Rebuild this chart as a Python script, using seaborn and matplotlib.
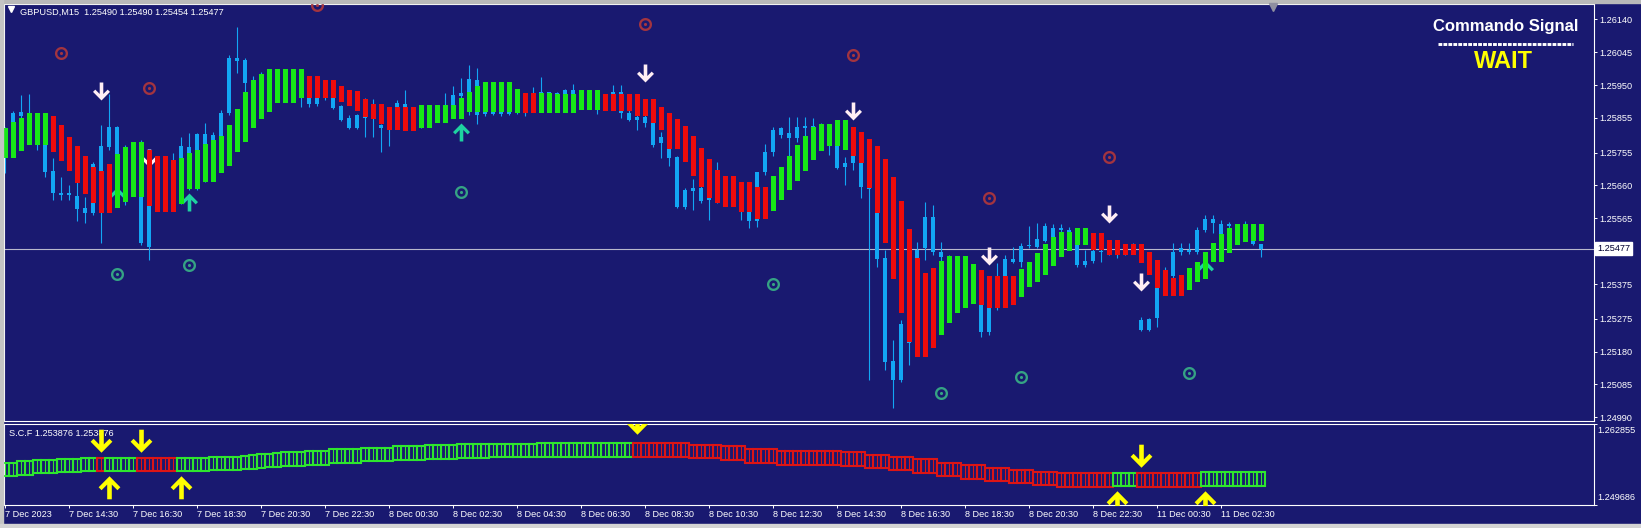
import numpy as np
import pandas as pd
import matplotlib
matplotlib.use("Agg")
import matplotlib.pyplot as plt
import seaborn as sns
from matplotlib.path import Path
from matplotlib.lines import Line2D
from matplotlib.patches import Rectangle

# ============ data : GBPUSD M15, prices in points (1 pt = 0.00001) ============

bar_open = [
    125762, 125806, 125861, 125835, 125791, 125777, 125702, 125638, 125632, 125630,
    125595, 125580, 125702, 125771, 125751, 125762, 125705, 125734, 125482, 125690,
    125618, 125690, 125618, 125754, 125762, 125780, 125734, 125803, 125869, 126028,
    126023, 125907, 125921, 125921, 125985, 125913, 125976, 125913, 125950, 125913,
    125950, 125913, 125890, 125855, 125826, 125864, 125864, 125835, 125835, 125878,
    125887, 125878, 125835, 125878, 125849, 125878, 125893, 125919, 125930, 125965,
    125878, 125867, 125907, 125867, 125872, 125895, 125878, 125893, 125930, 125927,
    125895, 125936, 125924, 125907, 125924, 125898, 125901, 125930, 125869, 125849,
    125858, 125841, 125800, 125800, 125742, 125647, 125653, 125653, 125624, 125618,
    125632, 125612, 125630, 125598, 125557, 125699, 125757, 125806, 125812, 125797,
    125826, 125832, 125826, 125809, 125800, 125713, 125725, 125725, 125656, 125580,
    125450, 125153, 125098, 125208, 125205, 125479, 125569, 125468, 125453, 125430,
    125410, 125390, 125315, 125237, 125306, 125398, 125447, 125439, 125485, 125482,
    125500, 125511, 125537, 125531, 125505, 125430, 125442, 125471, 125468, 125482,
    125465, 125476, 125271, 125242, 125277, 125364, 125398, 125468, 125468, 125468,
    125531, 125563, 125520, 125549, 125543, 125531, 125540, 125490,
]
bar_high = [
    125829, 125875, 125921, 125924, 125855, 125791, 125739, 125684, 125661, 125676,
    125627, 125728, 125835, 125924, 125832, 125777, 125771, 125791, 125762, 125734,
    125719, 125754, 125800, 125812, 125812, 125841, 125815, 125878, 126037, 126118,
    126028, 125976, 125988, 125997, 125994, 125985, 125985, 125976, 125965, 125936,
    125956, 125936, 125893, 125864, 125867, 125913, 125910, 125838, 125887, 125907,
    125936, 125887, 125887, 125884, 125884, 125927, 125947, 125971, 126008, 125999,
    125900, 125913, 125913, 125895, 125907, 125907, 125945, 125973, 125930, 125930,
    125939, 125953, 125936, 125933, 125930, 125913, 125950, 125950, 125878, 125867,
    125867, 125849, 125815, 125803, 125745, 125653, 125679, 125667, 125650, 125728,
    125650, 125644, 125653, 125627, 125699, 125780, 125829, 125829, 125858, 125858,
    125858, 125855, 125841, 125838, 125815, 125742, 125748, 125728, 125656, 125580,
    125473, 125213, 125271, 125208, 125497, 125612, 125604, 125497, 125460, 125442,
    125430, 125410, 125352, 125306, 125436, 125459, 125482, 125494, 125543, 125552,
    125552, 125549, 125549, 125540, 125520, 125473, 125485, 125494, 125494, 125491,
    125488, 125494, 125280, 125277, 125370, 125424, 125494, 125494, 125494, 125540,
    125575, 125575, 125560, 125555, 125549, 125557, 125546, 125490,
]
bar_low = [
    125696, 125791, 125835, 125820, 125762, 125684, 125618, 125618, 125618, 125557,
    125552, 125575, 125494, 125762, 125734, 125604, 125699, 125488, 125445, 125601,
    125604, 125612, 125606, 125647, 125647, 125670, 125722, 125791, 125864, 125985,
    125930, 125895, 125913, 125913, 125913, 125907, 125907, 125887, 125887, 125890,
    125907, 125881, 125846, 125823, 125823, 125800, 125800, 125757, 125774, 125864,
    125872, 125826, 125826, 125843, 125846, 125855, 125890, 125913, 125864, 125838,
    125860, 125864, 125861, 125864, 125867, 125862, 125872, 125887, 125887, 125884,
    125890, 125895, 125895, 125898, 125867, 125884, 125890, 125855, 125846, 125820,
    125829, 125771, 125739, 125716, 125595, 125592, 125589, 125609, 125560, 125609,
    125604, 125601, 125560, 125537, 125540, 125690, 125745, 125797, 125734, 125786,
    125791, 125803, 125800, 125748, 125707, 125661, 125705, 125624, 125098, 125424,
    125127, 125017, 125092, 125141, 125200, 125445, 125460, 125424, 125421, 125401,
    125378, 125352, 125222, 125228, 125300, 125390, 125436, 125424, 125479, 125479,
    125497, 125505, 125520, 125497, 125424, 125424, 125436, 125439, 125459, 125450,
    125459, 125462, 125239, 125239, 125251, 125355, 125393, 125460, 125462, 125462,
    125526, 125523, 125511, 125531, 125520, 125520, 125488, 125453,
]
bar_close = [
    125815, 125869, 125872, 125864, 125849, 125699, 125638, 125632, 125638, 125592,
    125580, 125722, 125774, 125829, 125829, 125734, 125762, 125494, 125690, 125618,
    125690, 125618, 125774, 125771, 125809, 125809, 125806, 125869, 126028, 126020,
    125956, 125965, 125982, 125985, 125921, 125976, 125913, 125965, 125895, 125895,
    125913, 125884, 125849, 125826, 125864, 125855, 125895, 125826, 125878, 125898,
    125895, 125835, 125878, 125849, 125878, 125893, 125921, 125927, 125968, 125864,
    125867, 125907, 125867, 125872, 125895, 125878, 125893, 125930, 125927, 125895,
    125936, 125924, 125907, 125924, 125898, 125901, 125930, 125869, 125849, 125858,
    125841, 125777, 125783, 125739, 125598, 125598, 125644, 125615, 125618, 125632,
    125612, 125630, 125598, 125557, 125699, 125757, 125820, 125826, 125797, 125829,
    125832, 125826, 125809, 125826, 125710, 125725, 125745, 125656, 125650, 125447,
    125150, 125098, 125260, 125205, 125473, 125569, 125468, 125453, 125430, 125410,
    125390, 125378, 125237, 125306, 125390, 125447, 125439, 125485, 125488, 125505,
    125543, 125537, 125531, 125505, 125430, 125442, 125471, 125468, 125482, 125465,
    125476, 125471, 125242, 125274, 125364, 125404, 125468, 125479, 125473, 125531,
    125563, 125552, 125549, 125543, 125531, 125540, 125490, 125477,
]

# smoothed heiken ashi bodies
ha_open = [
    125739, 125739, 125760, 125777, 125777, 125777, 125861, 125835, 125800, 125774,
    125745, 125713, 125702, 125722, 125595, 125612, 125627, 125627, 125762, 125745,
    125745, 125734, 125606, 125650, 125650, 125670, 125670, 125696, 125716, 125757,
    125786, 125826, 125852, 125872, 125898, 125898, 125898, 125913, 125976, 125976,
    125965, 125965, 125947, 125936, 125933, 125910, 125895, 125895, 125887, 125887,
    125887, 125887, 125826, 125826, 125841, 125841, 125852, 125852, 125872, 125872,
    125872, 125872, 125872, 125872, 125869, 125927, 125927, 125869, 125869, 125869,
    125869, 125869, 125878, 125878, 125878, 125924, 125924, 125924, 125924, 125924,
    125910, 125910, 125887, 125869, 125852, 125832, 125803, 125768, 125736, 125705,
    125687, 125687, 125670, 125670, 125656, 125656, 125586, 125618, 125647, 125673,
    125702, 125734, 125760, 125774, 125774, 125762, 125829, 125815, 125794, 125774,
    125736, 125684, 125615, 125534, 125450, 125407, 125421, 125228, 125263, 125291,
    125306, 125317, 125416, 125398, 125398, 125398, 125398, 125338, 125367, 125381,
    125401, 125427, 125453, 125471, 125488, 125488, 125523, 125523, 125502, 125502,
    125491, 125491, 125491, 125468, 125445, 125416, 125393, 125401, 125358, 125381,
    125390, 125439, 125439, 125465, 125488, 125497, 125500, 125500,
]
ha_close = [
    125826, 125843, 125855, 125869, 125869, 125869, 125757, 125731, 125702, 125667,
    125635, 125609, 125580, 125580, 125751, 125771, 125786, 125786, 125601, 125583,
    125583, 125583, 125739, 125754, 125762, 125780, 125791, 125803, 125835, 125881,
    125930, 125965, 125982, 125997, 125997, 125997, 125997, 125997, 125913, 125913,
    125913, 125913, 125901, 125890, 125875, 125858, 125852, 125838, 125820, 125820,
    125817, 125817, 125893, 125893, 125893, 125893, 125893, 125913, 125930, 125947,
    125959, 125959, 125959, 125959, 125939, 125869, 125869, 125927, 125927, 125924,
    125924, 125924, 125936, 125936, 125936, 125875, 125875, 125875, 125875, 125861,
    125861, 125841, 125820, 125765, 125765, 125728, 125687, 125656, 125624, 125609,
    125598, 125598, 125583, 125583, 125563, 125563, 125687, 125713, 125745, 125777,
    125803, 125829, 125838, 125838, 125849, 125849, 125745, 125725, 125653, 125580,
    125494, 125390, 125291, 125208, 125164, 125164, 125190, 125442, 125456, 125456,
    125456, 125433, 125315, 125306, 125306, 125306, 125315, 125419, 125439, 125465,
    125491, 125511, 125526, 125526, 125537, 125537, 125473, 125473, 125459, 125459,
    125459, 125459, 125436, 125401, 125364, 125341, 125341, 125341, 125421, 125439,
    125468, 125494, 125520, 125537, 125549, 125549, 125549, 125549,
]

# signal arrows and target rings (bar index, price)
sell_bars = [12, 18, 80, 106, 123, 138, 142]
sell_price = [1.25930, 1.25736, 1.25982, 1.25872, 1.25453, 1.25575, 1.25378]
buy_bars = [14, 23, 57, 150]
buy_price = [1.25632, 1.25615, 1.25817, 1.25421]
red_ring_bars = [7, 18, 39, 80, 106, 123, 138]
red_ring_price = [1.26043, 1.25942, 1.26182, 1.26127, 1.26037, 1.25624, 1.25742]
teal_ring_bars = [14, 23, 57, 96, 117, 127, 148]
teal_ring_price = [1.25404, 1.25430, 1.25641, 1.25375, 1.25060, 1.25106, 1.25118]

# S.C.F sub window
scf_level = [
    1.25546, 1.25546, 1.25570, 1.25570, 1.25595, 1.25595, 1.25595, 1.25611, 1.25611, 1.25611,
    1.25627, 1.25627, 1.25627, 1.25627, 1.25627, 1.25627, 1.25627, 1.25627, 1.25627, 1.25627,
    1.25627, 1.25627, 1.25627, 1.25627, 1.25627, 1.25627, 1.25643, 1.25643, 1.25643, 1.25643,
    1.25660, 1.25668, 1.25684, 1.25692, 1.25700, 1.25717, 1.25717, 1.25717, 1.25733, 1.25733,
    1.25733, 1.25765, 1.25765, 1.25765, 1.25765, 1.25790, 1.25790, 1.25790, 1.25790, 1.25814,
    1.25814, 1.25814, 1.25814, 1.25830, 1.25830, 1.25830, 1.25830, 1.25847, 1.25847, 1.25847,
    1.25847, 1.25855, 1.25855, 1.25855, 1.25855, 1.25855, 1.25855, 1.25863, 1.25863, 1.25863,
    1.25863, 1.25863, 1.25863, 1.25863, 1.25863, 1.25863, 1.25863, 1.25863, 1.25863, 1.25863,
    1.25863, 1.25863, 1.25863, 1.25863, 1.25863, 1.25863, 1.25838, 1.25838, 1.25838, 1.25838,
    1.25814, 1.25814, 1.25814, 1.25765, 1.25765, 1.25765, 1.25765, 1.25733, 1.25733, 1.25733,
    1.25733, 1.25733, 1.25733, 1.25733, 1.25733, 1.25717, 1.25717, 1.25717, 1.25676, 1.25676,
    1.25676, 1.25643, 1.25643, 1.25643, 1.25603, 1.25603, 1.25603, 1.25546, 1.25546, 1.25546,
    1.25505, 1.25505, 1.25505, 1.25465, 1.25465, 1.25465, 1.25432, 1.25432, 1.25432, 1.25399,
    1.25399, 1.25399, 1.25375, 1.25375, 1.25375, 1.25375, 1.25375, 1.25375, 1.25375, 1.25383,
    1.25383, 1.25383, 1.25375, 1.25375, 1.25375, 1.25375, 1.25375, 1.25375, 1.25375, 1.25375,
    1.253876, 1.253876, 1.253876, 1.253876, 1.253876, 1.253876, 1.253876, 1.253876,
]
# G = rising, R = falling
scf_state = (
    "GGGGGGGGGGGG"          # 0-11
    "R"                     # 12
    "GGGG"                  # 13-16
    "RRRRR"                 # 17-21
    "GGGGGGGGGGGGGGGGGGGGGGGGGGGGGGGGGGGGGGGGGGGGGGGGGGGGGGGGG"  # 22-78
    "RRRRRRRRRRRRRRRRRRRRRRRRRRRRRRRRRRRRRRRRRRRRRRRRRRRRRRRRRRRR"  # 79-138
    "GGG"                   # 139-141
    "RRRRRRRR"              # 142-149
    "GGGGGGGG"              # 150-157
)
scf_dn_bars = [12, 17, 79, 142]
scf_dn_value = [1.259961, 1.259961, 1.262888, 1.257522]
scf_up_bars = [13, 22, 139, 150]
scf_up_value = [1.252743, 1.252743, 1.250304, 1.250304]

price_ticks = [1.26140, 1.26045, 1.25950, 1.25855, 1.25755, 1.25660, 1.25565,
               1.25375, 1.25275, 1.25180, 1.25085, 1.24990]
last_price = 1.25477
sub_max, sub_min = 1.262855, 1.249686

time_ticks = [0, 8, 16, 24, 32, 40, 48, 56, 64, 72, 80, 88, 96, 104, 112, 120,
              128, 136, 144, 152]
time_labels = ["7 Dec 2023", "7 Dec 14:30", "7 Dec 16:30", "7 Dec 18:30", "7 Dec 20:30",
               "7 Dec 22:30", "8 Dec 00:30", "8 Dec 02:30", "8 Dec 04:30", "8 Dec 06:30",
               "8 Dec 08:30", "8 Dec 10:30", "8 Dec 12:30", "8 Dec 14:30", "8 Dec 16:30",
               "8 Dec 18:30", "8 Dec 20:30", "8 Dec 22:30", "11 Dec 00:30", "11 Dec 02:30"]

# ---------------- styling ----------------
NAVY = "#191970"
CANDLE = "#12a6f4"
HA_UP = "#17e817"
HA_DN = "#ee0b0b"

sns.set_style("dark", {"axes.facecolor": NAVY, "figure.facecolor": NAVY,
                       "axes.grid": False, "axes.edgecolor": "white"})
plt.rcParams["font.family"] = ["Liberation Sans", "DejaVu Sans"]

df = pd.DataFrame({"o": bar_open, "h": bar_high, "l": bar_low, "c": bar_close,
                   "ho": ha_open, "hc": ha_close}) / 1e5
df["x"] = np.arange(len(df))

# marker shapes
ARROW_DN = Path([(-0.18, 1.0), (0.18, 1.0), (0.18, -0.15), (0.62, 0.29), (0.85, 0.06),
                 (0.0, -0.8), (-0.85, 0.06), (-0.62, 0.29), (-0.18, -0.15), (-0.18, 1.0)],
                closed=True)
ARROW_UP = Path(ARROW_DN.vertices * [1, -1], closed=True)
t = np.linspace(0, 2 * np.pi, 48)
ring_v = np.concatenate([np.c_[np.cos(t), np.sin(t)],
                         np.c_[np.cos(t[::-1]), np.sin(t[::-1])] * 0.64,
                         np.c_[np.cos(t), np.sin(t)] * 0.24])
ring_c = ([Path.MOVETO] + [Path.LINETO] * 47) * 3
RING = Path(ring_v, ring_c)

W, H = 1641, 528


def box(x0, y0, x1, y1):
    return [x0 / W, 1 - y1 / H, (x1 - x0) / W, (y1 - y0) / H]


fig = plt.figure(figsize=(W / 100, H / 100), dpi=100)
ax = fig.add_axes(box(4, 4, 1594, 421))
sub = fig.add_axes(box(4, 424, 1594, 505))

XLIM = (-0.16, 198.6)

# -------------- main window --------------
ax.axhline(last_price, color="#b8b8cc", lw=0.8, zorder=1)
ax.vlines(df["x"], df["l"], df["h"], color=CANDLE, lw=0.8, zorder=2)
body_lo = df[["o", "c"]].min(axis=1)
body_h = np.maximum((df["o"] - df["c"]).abs(), 0.00003)
ax.bar(df["x"], body_h, bottom=body_lo, width=0.5, color=CANDLE, linewidth=0, zorder=2)

sns.scatterplot(x=sell_bars, y=sell_price, marker=ARROW_DN, s=207, color="#ffeef4",
                linewidth=0, ax=ax, zorder=3, legend=False)
sns.scatterplot(x=buy_bars, y=buy_price, marker=ARROW_UP, s=207, color="#1ed2a0",
                linewidth=0, ax=ax, zorder=3, legend=False)
sns.scatterplot(x=red_ring_bars, y=red_ring_price, marker=RING, s=88, color="#a3343f",
                linewidth=0, ax=ax, zorder=3, legend=False)
sns.scatterplot(x=teal_ring_bars, y=teal_ring_price, marker=RING, s=88, color="#35a384",
                linewidth=0, ax=ax, zorder=3, legend=False)

ha_lo = df[["ho", "hc"]].min(axis=1)
ha_h = np.maximum((df["ho"] - df["hc"]).abs(), 0.00003)
ha_col = np.where(df["hc"] >= df["ho"], HA_UP, HA_DN)
ax.bar(df["x"], ha_h, bottom=ha_lo, width=0.6, color=ha_col, linewidth=0, zorder=4)

ax.set_xlim(*XLIM)
ax.set_ylim(1.249793, 1.261844)
ax.set_xticks([])
ax.yaxis.tick_right()
ax.set_yticks(price_ticks)
ax.set_yticklabels([f"{v:.5f}" for v in price_ticks])
ax.tick_params(axis="y", right=True, left=False, labelright=True, labelleft=False,
               colors="white", length=2.2, width=0.7, labelsize=6.6, pad=1.6, direction="out")
ax.set_xlabel("")
ax.set_ylabel("")

ax.text(1.002, last_price, f"{last_price:.5f}", transform=ax.get_yaxis_transform(),
        ha="left", va="center", fontsize=6.6, color="#000030", zorder=6, clip_on=False,
        bbox=dict(boxstyle="square,pad=0.22", fc="white", ec="white"))

ax.plot([(11 - 4) / 1590], [1 - (8.5 - 4) / 417], marker="v", ms=4.5, color="white",
        transform=ax.transAxes, clip_on=False)
ax.text((20 - 4) / 1590, 1 - (12.5 - 4) / 417,
        "GBPUSD,M15  1.25490 1.25490 1.25454 1.25477",
        transform=ax.transAxes, ha="left", va="center", fontsize=6.6, color="white")

# -------------- S.C.F window --------------
lvl = np.array(scf_level)
scf_col = np.where(np.array(list(scf_state)) == "G", "#2ee62e", "#dd1515")
BAND = 0.00112
sub.bar(df["x"], 2 * BAND, bottom=lvl - BAND, width=1.0, fill=False,
        edgecolor=scf_col, linewidth=1.5, zorder=3)
sub.vlines(df["x"], lvl - BAND, lvl + BAND, colors=scf_col, lw=0.8, zorder=3)

sns.scatterplot(x=scf_dn_bars, y=scf_dn_value, marker=ARROW_DN, s=340, color="#ffff00",
                linewidth=0, ax=sub, zorder=4, legend=False)
sns.scatterplot(x=scf_up_bars, y=scf_up_value, marker=ARROW_UP, s=340, color="#ffff00",
                linewidth=0, ax=sub, zorder=4, legend=False)

sub.set_xlim(*XLIM)
sub.set_ylim(sub_min, sub_max)
sub.yaxis.tick_right()
sub.set_yticks([sub_min, sub_max])
sub.set_yticklabels([])
sub.tick_params(axis="y", right=True, left=False, colors="white", length=2.2, width=0.7)
sub.set_xticks(time_ticks)
sub.set_xticklabels(time_labels, ha="left")
sub.tick_params(axis="x", bottom=True, colors="white", length=2.2, width=0.7,
                labelsize=6.6, pad=1.6, direction="out")
sub.set_xlabel("")
sub.set_ylabel("")
sub.text(1.002, 0.92, f"{sub_max:.6f}", transform=sub.transAxes, ha="left", va="center",
         fontsize=6.6, color="white")
sub.text(1.002, 0.09, f"{sub_min:.6f}", transform=sub.transAxes, ha="left", va="center",
         fontsize=6.6, color="white")
sub.text((9 - 4) / 1590, 0.885, f"S.C.F {scf_level[-1]:.6f} {scf_level[-1]:.6f}",
         transform=sub.transAxes, ha="left", va="center", fontsize=6.6, color="white")

for a in (ax, sub):
    for sp in a.spines.values():
        sp.set_color("white")
        sp.set_linewidth(0.8)

# -------------- signal panel text --------------
fig.text(1506 / W, 1 - 26 / H, "Commando Signal", ha="center", va="center",
         fontsize=12, fontweight="bold", color="white")
fig.add_artist(Line2D([1438 / W, 1573 / W], [1 - 43.5 / H] * 2, color="white", lw=2.1,
                      dashes=(1.3, 0.4), solid_capstyle="butt", transform=fig.transFigure))
fig.text(1503 / W, 1 - 61 / H, "WAIT", ha="center", va="center",
         fontsize=17, fontweight="bold", color="#ffff00")

# shift marker and window frame
fig.add_artist(Line2D([1273 / W], [1 - 6.5 / H], marker="v", ms=6, color="#8f8fa0",
                      linestyle="none", transform=fig.transFigure))
fig.add_artist(Rectangle((0, 1 - 3 / H), 1, 3 / H, color="#b9b9b9", transform=fig.transFigure))
fig.add_artist(Rectangle((0, 0), 3 / W, 1, color="#c4c4c4", transform=fig.transFigure))
fig.add_artist(Rectangle((0, 0), 1, 4 / H, color="#d4d4d4", transform=fig.transFigure))

fig.savefig("out.png", dpi=100, facecolor=fig.get_facecolor())
